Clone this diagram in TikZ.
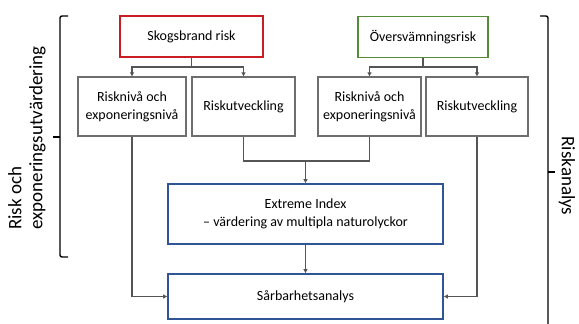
\documentclass[tikz,border=0pt]{standalone}
\usepackage{fontspec}
\setmainfont{Carlito}
\usetikzlibrary{arrows.meta}
\definecolor{boxgray}{RGB}{110,110,110}
\definecolor{linegray}{RGB}{85,85,85}
\definecolor{bred}{RGB}{200,30,35}
\definecolor{bgreen}{RGB}{85,140,55}
\definecolor{bblue}{RGB}{47,85,151}
\begin{document}
\begin{tikzpicture}[x=1pt,y=-1pt,
  box/.style={draw=boxgray,line width=1.4pt,fill=white,inner sep=2pt,align=center,
     font=\fontsize{14}{17.5}\selectfont},
  conn/.style={draw=linegray,line width=1.3pt},
  arr/.style={conn,-{Triangle[length=4pt,width=4pt]}},
  brace/.style={draw=black,line width=1.4pt},
  side/.style={font=\fontsize{19}{21}\selectfont}]
\useasboundingbox (0,0) rectangle (579,324);
% top boxes
\node[box,draw=bred,line width=1.8pt,minimum width=143pt,minimum height=41pt] (sk) at (191.5,36.5) {Skogsbrand risk};
\node[box,draw=bgreen,line width=1.8pt,minimum width=130pt,minimum height=41pt] (ov) at (423,37) {Översvämningsrisk};
% second row
\node[box,minimum width=108pt,minimum height=59pt] (r1) at (132,106.5) {Risknivå och\\exponeringsnivå};
\node[box,minimum width=103pt,minimum height=59pt] (u1) at (243.5,106.5) {Riskutveckling};
\node[box,minimum width=103pt,minimum height=59pt] (r2) at (369.5,106.5) {Risknivå och\\exponeringsnivå};
\node[box,minimum width=102pt,minimum height=59pt] (u2) at (477,106.5) {Riskutveckling};
% bottom boxes
\node[box,draw=bblue,line width=1.8pt,minimum width=275pt,minimum height=60pt] (ei) at (305.5,214) {Extreme Index\\– värdering av multipla naturolyckor};
\node[box,draw=bblue,line width=1.8pt,minimum width=275pt,minimum height=45pt] (sa) at (305.5,296.5) {Sårbarhetsanalys};
% connectors
\coordinate (j1) at (191.5,67);
\coordinate (j2) at (423,67);
\coordinate (m) at (305.5,161);
\draw[conn] (sk) -- (j1);
\draw[arr] (j1) -| (r1);
\draw[arr] (j1) -| (u1);
\draw[conn] (ov) -- (j2);
\draw[arr] (j2) -| (r2);
\draw[arr] (j2) -| (u2);
\draw[conn] (u1) |- (m);
\draw[conn] (r2) |- (m);
\draw[arr] (m) -- (ei);
\draw[arr] (ei) -- (sa);
\draw[arr] (r1) |- (sa);
\draw[arr] (u2) |- (sa);
% left bracket
\coordinate (lt) at (68,16);
\coordinate (lb) at (68,257);
\coordinate (lm) at (53,137);
\draw[brace,rounded corners=2pt] (lt) -- (60,16) -- (60,257) -- (lb);
\draw[brace] (60,137) -- (lm);
\node[side,rotate=90,align=left] (ltxt) at (27,138) {Risk och\\exponeringsutvärdering};
% right bracket
\coordinate (rt) at (540,16);
\coordinate (rb) at (548,326);
\coordinate (rm) at (555,172);
\draw[brace,rounded corners=2pt] (rt) -- (548,16) -- (rb);
\draw[brace] (548,172) -- (rm);
\node[side,rotate=-90] (rtxt) at (567,176) {Riskanalys};
\end{tikzpicture}
\end{document}
